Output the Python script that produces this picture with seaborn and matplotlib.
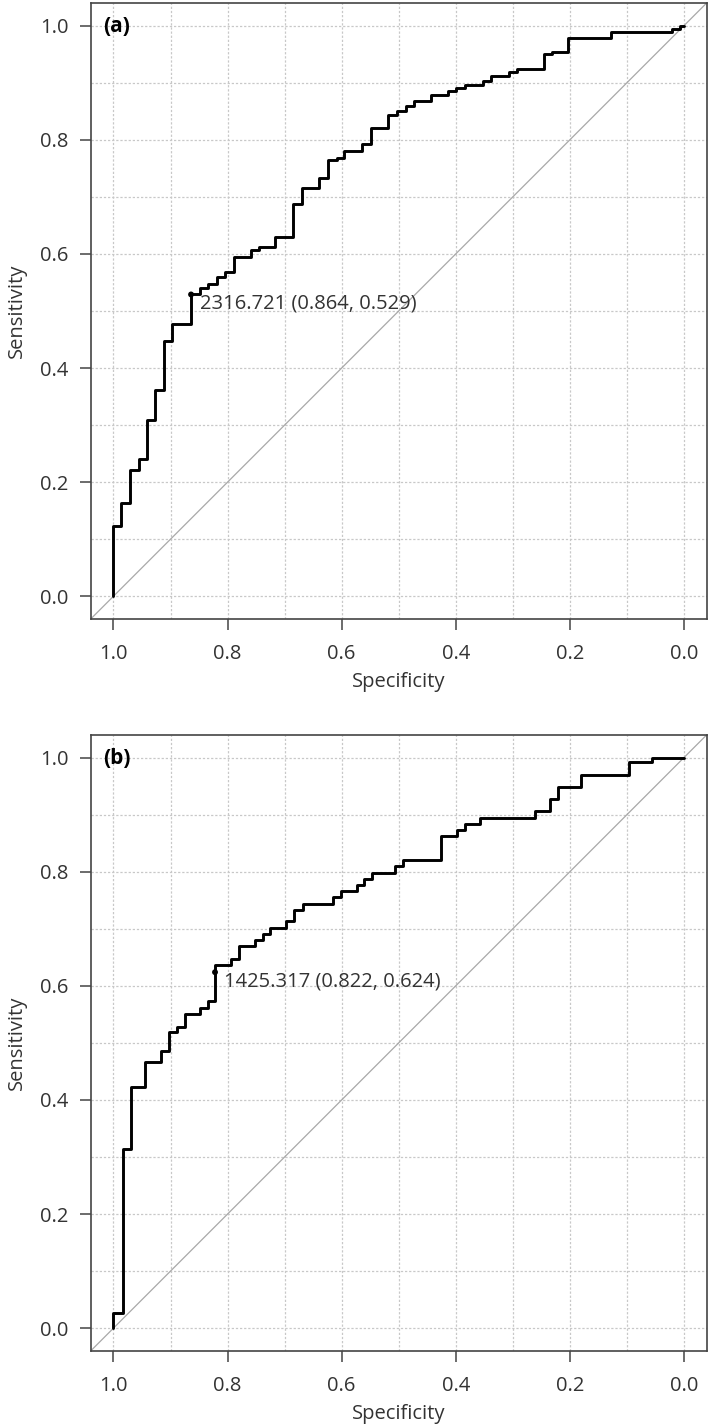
import matplotlib.pyplot as plt
import matplotlib.ticker as mticker
import numpy as np
import pandas as pd
import seaborn as sns

# ROC (a): specificity where each rise happens, sensitivity reached after it
spec_a = [1.0, 1.0, 0.987, 0.971, 0.956, 0.9405, 0.9266, 0.911, 0.897, 0.864,
          0.849, 0.834, 0.819, 0.804, 0.788, 0.759, 0.745, 0.716, 0.685, 0.670,
          0.639, 0.624, 0.609, 0.595, 0.564, 0.549, 0.518, 0.503, 0.488, 0.473,
          0.444, 0.413, 0.399, 0.383, 0.353, 0.338, 0.307, 0.292, 0.245, 0.231,
          0.203, 0.127, 0.021, 0.006, 0.0]
sens_a = [0.0, 0.1225, 0.163, 0.222, 0.240, 0.309, 0.362, 0.448, 0.478, 0.529,
          0.541, 0.547, 0.560, 0.568, 0.594, 0.607, 0.612, 0.629, 0.687, 0.716,
          0.733, 0.764, 0.769, 0.780, 0.792, 0.821, 0.844, 0.850, 0.860, 0.868,
          0.879, 0.885, 0.891, 0.897, 0.903, 0.912, 0.919, 0.925, 0.950, 0.954,
          0.979, 0.990, 0.995, 1.0, 1.0]
thr_a = 2316.721
best_a = (0.864, 0.529)

# ROC (b)
spec_b = [1.0, 1.0, 0.984, 0.970, 0.944, 0.916, 0.903, 0.888, 0.875, 0.849,
          0.835, 0.822, 0.794, 0.780, 0.752, 0.738, 0.725, 0.697, 0.683, 0.668,
          0.615, 0.601, 0.573, 0.560, 0.547, 0.506, 0.492, 0.426, 0.398, 0.383,
          0.357, 0.261, 0.235, 0.221, 0.181, 0.097, 0.056, 0.0]
sens_b = [0.0, 0.026, 0.314, 0.422, 0.466, 0.486, 0.519, 0.528, 0.551, 0.561,
          0.573, 0.637, 0.647, 0.670, 0.681, 0.691, 0.702, 0.713, 0.733, 0.744,
          0.755, 0.766, 0.777, 0.788, 0.798, 0.810, 0.820, 0.863, 0.874, 0.883,
          0.894, 0.907, 0.927, 0.949, 0.969, 0.992, 1.0, 1.0]
thr_b = 1425.317
best_b = (0.822, 0.624)

ticks = [1.0, 0.8, 0.6, 0.4, 0.2, 0.0]

sns.set_style("white")
plt.rcParams['font.family'] = ['Open Sans', 'DejaVu Sans']

TXT = '#333333'
FRAME = '#444444'
FS = 14.5


def roc_panel(ax, spec, sens, thr, best, tag):
    df = pd.DataFrame({'Specificity': spec, 'Sensitivity': sens})
    ax.axline((1, 0), (0, 1), color='#a8a8a8', lw=0.9, zorder=1)
    sns.lineplot(data=df, x='Specificity', y='Sensitivity', ax=ax, sort=False,
                 estimator=None, drawstyle='steps-post', color='black', lw=2.1,
                 zorder=3)
    sns.scatterplot(x=[best[0]], y=[best[1]], ax=ax, color='black', s=18,
                    edgecolor='none', zorder=4)
    ax.annotate(f'{thr:.3f} ({best[0]:.3f}, {best[1]:.3f})', xy=best,
                xytext=(6.5, 0.5), textcoords='offset points', ha='left',
                va='top', fontsize=FS, color=TXT)
    ax.text(0.02, 0.962, tag, transform=ax.transAxes, ha='left', va='center',
            fontsize=15, fontweight='bold', color='black')

    ax.set_xlim(1.04, -0.04)
    ax.set_ylim(-0.04, 1.04)
    ax.set_xticks(ticks)
    ax.set_yticks(ticks)
    ax.set_xticks(np.arange(0, 1.01, 0.1), minor=True)
    ax.set_yticks(np.arange(0, 1.01, 0.1), minor=True)
    ax.xaxis.set_major_formatter(mticker.FormatStrFormatter('%.1f'))
    ax.yaxis.set_major_formatter(mticker.FormatStrFormatter('%.1f'))
    ax.grid(True, which='both', color='#c8c8c8', lw=0.9, ls=(0, (1.8, 1.5)))
    ax.set_axisbelow(True)
    ax.tick_params(which='major', length=8, width=1.1, color=FRAME,
                   labelsize=FS, labelcolor=TXT, direction='out',
                   bottom=True, left=True)
    ax.tick_params(axis='x', which='major', pad=10)
    ax.tick_params(axis='y', which='major', pad=8)
    ax.tick_params(which='minor', length=0)
    for sp in ax.spines.values():
        sp.set_color(FRAME)
        sp.set_linewidth(1.2)
    ax.set_xlabel('Specificity', fontsize=FS, color=TXT)
    ax.set_ylabel('Sensitivity', fontsize=FS, color=TXT)
    ax.xaxis.set_label_coords(0.5, -0.086)
    ax.yaxis.set_label_coords(-0.104, 0.5)


fig = plt.figure(figsize=(7.09, 14.27), dpi=100)
ax_a = fig.add_axes([0.1279, 0.5662, 0.8688, 0.4317])
ax_b = fig.add_axes([0.1279, 0.0533, 0.8688, 0.4317])

roc_panel(ax_a, spec_a, sens_a, thr_a, best_a, '(a)')
roc_panel(ax_b, spec_b, sens_b, thr_b, best_b, '(b)')

fig.savefig('out.png', dpi=100, facecolor='white')
